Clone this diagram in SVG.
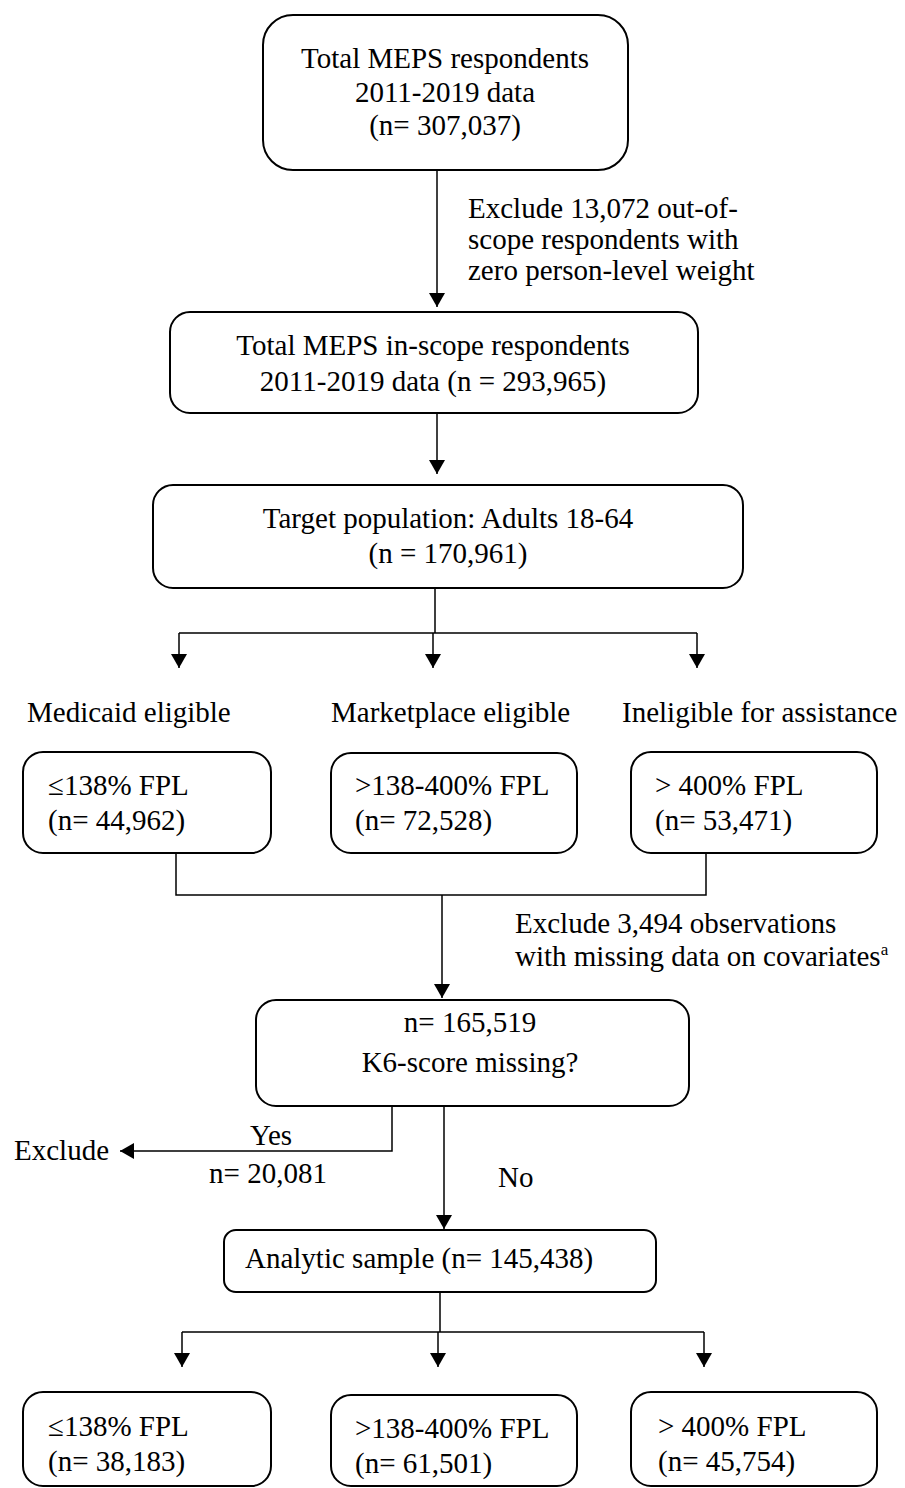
<svg xmlns="http://www.w3.org/2000/svg" width="905" height="1488" viewBox="0 0 905 1488">
<style>
.box{fill:#fff;stroke:#000;stroke-width:2}
.t{font-family:"Liberation Serif","Times New Roman",serif;font-size:29px;fill:#000}
.c{text-anchor:middle}
.ln{stroke:#000;stroke-width:1.5;fill:none}
.ar{stroke:#000;stroke-width:1.5;fill:none;marker-end:url(#ah)}
</style>
<defs>
<marker id="ah" markerUnits="userSpaceOnUse" markerWidth="14" markerHeight="16" refX="14" refY="8" orient="auto"><path d="M0,0 L14,8 L0,16 z" fill="#000"/></marker>
</defs>
<rect width="905" height="1488" fill="#fff"/>
<g id="connectors">
<path class="ar" d="M437,170 V307"/>
<path class="ar" d="M437,413 V474"/>
<path class="ln" d="M435,588 V633 M179,633 H697"/>
<path class="ar" d="M179,633 V668"/>
<path class="ar" d="M433,633 V668"/>
<path class="ar" d="M697,633 V668"/>
<path class="ln" d="M176,853 V895 H706 V853"/>
<path class="ar" d="M442,895 V998"/>
<path class="ar" d="M392,1106 V1151 H120"/>
<path class="ar" d="M444,1106 V1229"/>
<path class="ln" d="M440,1292 V1332 M182,1332 H704"/>
<path class="ar" d="M182,1332 V1367"/>
<path class="ar" d="M438,1332 V1367"/>
<path class="ar" d="M704,1332 V1367"/>
</g>
<g id="n-total">
<rect class="box" x="263" y="15" width="365" height="155" rx="30"/>
<text class="t c" x="445" y="68">Total MEPS respondents</text>
<text class="t c" x="445" y="102">2011-2019 data</text>
<text class="t c" x="445" y="135">(n= 307,037)</text>
</g>
<g id="l-exclude1">
<text class="t" x="468" y="218">Exclude 13,072 out-of-</text>
<text class="t" x="468" y="249">scope respondents with</text>
<text class="t" x="468" y="280">zero person-level weight</text>
</g>
<g id="n-inscope">
<rect class="box" x="170" y="312" width="528" height="101" rx="20"/>
<text class="t c" x="433" y="355">Total MEPS in-scope respondents</text>
<text class="t c" x="433" y="391">2011-2019 data (n = 293,965)</text>
</g>
<g id="n-target">
<rect class="box" x="153" y="485" width="590" height="103" rx="20"/>
<text class="t c" x="448" y="528">Target population: Adults 18-64</text>
<text class="t c" x="448" y="563">(n = 170,961)</text>
</g>
<g id="labels">
<text class="t" x="27" y="722">Medicaid eligible</text>
<text class="t" x="331" y="722">Marketplace eligible</text>
<text class="t" x="622" y="722">Ineligible for assistance</text>
</g>
<g id="n-a1">
<rect class="box" x="23" y="752" width="248" height="101" rx="20"/>
<text class="t" x="48" y="795">≤138% FPL</text>
<text class="t" x="48" y="830">(n= 44,962)</text>
</g>
<g id="n-b1">
<rect class="box" x="331" y="753" width="246" height="100" rx="20"/>
<text class="t" x="355" y="795">&gt;138-400% FPL</text>
<text class="t" x="355" y="830">(n= 72,528)</text>
</g>
<g id="n-c1">
<rect class="box" x="631" y="752" width="246" height="101" rx="20"/>
<text class="t" x="655" y="795">&gt; 400% FPL</text>
<text class="t" x="655" y="830">(n= 53,471)</text>
</g>
<g id="l-exclude2">
<text class="t" x="515" y="933">Exclude 3,494 observations</text>
<text class="t" x="515" y="966">with missing data on covariates<tspan font-size="17" dy="-11">a</tspan></text>
</g>
<g id="n-k6">
<rect class="box" x="256" y="1000" width="433" height="106" rx="20"/>
<text class="t c" x="470" y="1032">n= 165,519</text>
<text class="t c" x="470" y="1072">K6-score missing?</text>
</g>
<g id="l-yes">
<text class="t c" x="271" y="1145">Yes</text>
<text class="t c" x="268" y="1183">n= 20,081</text>
</g>
<g id="n-exclude">
<text class="t" x="14" y="1160">Exclude</text>
</g>
<g id="l-no">
<text class="t" x="498" y="1187">No</text>
</g>
<g id="n-analytic">
<rect class="box" x="224" y="1230" width="432" height="62" rx="12"/>
<text class="t" x="245" y="1268">Analytic sample (n= 145,438)</text>
</g>
<g id="n-a2">
<rect class="box" x="23" y="1392" width="248" height="94" rx="20"/>
<text class="t" x="48" y="1436">≤138% FPL</text>
<text class="t" x="48" y="1471">(n= 38,183)</text>
</g>
<g id="n-b2">
<rect class="box" x="331" y="1395" width="246" height="91" rx="20"/>
<text class="t" x="355" y="1438">&gt;138-400% FPL</text>
<text class="t" x="355" y="1473">(n= 61,501)</text>
</g>
<g id="n-c2">
<rect class="box" x="631" y="1392" width="246" height="94" rx="20"/>
<text class="t" x="658" y="1436">&gt; 400% FPL</text>
<text class="t" x="658" y="1471">(n= 45,754)</text>
</g>
</svg>
